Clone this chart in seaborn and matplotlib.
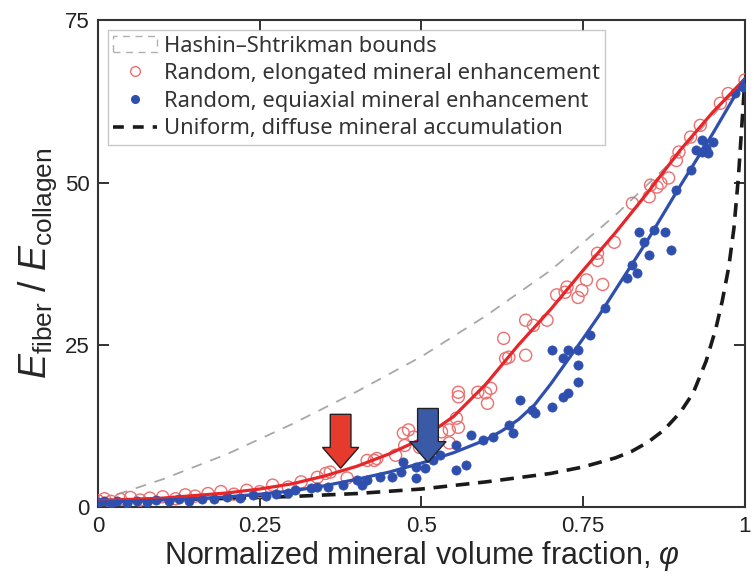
import numpy as np
import pandas as pd
import matplotlib
matplotlib.use('Agg')
import matplotlib.pyplot as plt
from matplotlib.patches import Patch
from matplotlib.lines import Line2D
import seaborn as sns

# Hashin-Shtrikman upper bound (gray dashed)
hs_phi = [0.0, 0.1, 0.2, 0.3, 0.4, 0.5, 0.6, 0.7, 0.8, 0.9, 1.0]
hs_val = [1.0, 4.3, 8.2, 12.8, 17.8, 23.2, 29.5, 36.5, 45.0, 54.5, 66.0]

# uniform diffuse accumulation (black dashed)
uni_phi = [0.0, 0.1, 0.2, 0.3, 0.4, 0.5, 0.6, 0.7, 0.75, 0.8, 0.825, 0.85, 0.875,
           0.9, 0.92, 0.94, 0.955, 0.965, 0.975, 0.983, 0.99, 0.995, 1.0]
uni_val = [1.0, 1.15, 1.35, 1.65, 2.1, 2.8, 3.9, 5.2, 6.2, 7.6, 8.6, 10.0, 11.9,
           14.6, 17.6, 22.5, 27.5, 31.8, 37.0, 43.0, 51.0, 58.5, 66.0]

# fitted curves
elong_fit_phi = [0.0, 0.05, 0.1, 0.15, 0.2, 0.25, 0.3, 0.35, 0.4, 0.45, 0.5, 0.55,
                 0.6, 0.65, 0.7, 0.75, 0.8, 0.85, 0.9, 0.95, 1.0]
elong_fit = [1.0, 1.2, 1.4, 1.8, 2.2, 2.8, 3.6, 4.8, 6.3, 8.2, 10.5, 14.0,
             19.0, 25.0, 30.5, 36.5, 42.3, 48.5, 55.0, 60.8, 66.0]
equi_fit_phi = [0.0, 0.05, 0.1, 0.15, 0.2, 0.25, 0.3, 0.35, 0.4, 0.45, 0.5, 0.55,
                0.6, 0.625, 0.65, 0.675, 0.7, 0.725, 0.75, 0.775, 0.8, 0.85, 0.9,
                0.95, 1.0]
equi_fit = [0.8, 0.9, 1.1, 1.3, 1.6, 2.0, 2.5, 3.3, 4.3, 5.4, 6.8, 8.4,
            10.4, 11.8, 13.5, 15.8, 19.0, 22.5, 26.0, 29.6, 33.5, 41.2, 49.5,
            57.5, 66.0]

# random, elongated (open red circles)
elong_phi = [0.0, 0.01, 0.02, 0.035, 0.05, 0.065, 0.08, 0.1, 0.12, 0.135, 0.15, 0.17,
             0.19, 0.21, 0.23, 0.25, 0.27, 0.294, 0.314, 0.339, 0.352, 0.359, 0.385,
             0.416, 0.427, 0.431, 0.46, 0.472, 0.474, 0.48, 0.488, 0.497, 0.531, 0.543,
             0.543, 0.554, 0.557, 0.557, 0.557, 0.587, 0.599, 0.602, 0.607, 0.627,
             0.63, 0.635, 0.661, 0.661, 0.673, 0.694, 0.709, 0.722, 0.725, 0.742,
             0.748, 0.755, 0.772, 0.772, 0.78, 0.798, 0.826, 0.852, 0.854, 0.864,
             0.87, 0.882, 0.894, 0.898, 0.916, 0.931, 0.962, 0.974, 1.0]
elong_val = [1.0, 1.3, 0.9, 1.2, 1.5, 1.1, 1.4, 1.6, 1.3, 1.9, 1.7, 2.1,
             2.4, 2.0, 2.6, 2.4, 3.4, 3.1, 3.9, 4.6, 5.2, 5.4, 4.5,
             7.2, 7.2, 7.5, 8.0, 11.4, 9.5, 11.9, 10.8, 9.2, 11.6, 11.9,
             9.9, 13.7, 12.3, 17.0, 17.7, 17.7, 17.6, 16.0, 18.3, 26.0,
             22.9, 23.1, 23.4, 28.8, 28.0, 28.8, 32.7, 33.1, 33.9, 32.3,
             33.4, 35.0, 39.1, 38.0, 34.3, 40.8, 46.8, 47.8, 49.6, 49.3,
             49.9, 50.7, 53.4, 54.7, 57.0, 58.8, 62.2, 63.7, 65.8]

# random, equiaxial (filled blue dots)
equi_phi = [0.0, 0.01, 0.02, 0.03, 0.045, 0.06, 0.075, 0.09, 0.11, 0.125, 0.14, 0.16,
            0.18, 0.2, 0.22, 0.24, 0.26, 0.275, 0.294, 0.304, 0.329, 0.339, 0.355,
            0.378, 0.401, 0.408, 0.416, 0.436, 0.454, 0.469, 0.472, 0.492, 0.492,
            0.505, 0.518, 0.528, 0.554, 0.554, 0.569, 0.576, 0.595, 0.61, 0.635,
            0.642, 0.653, 0.671, 0.676, 0.702, 0.702, 0.719, 0.719, 0.727, 0.727,
            0.742, 0.742, 0.742, 0.76, 0.783, 0.818, 0.826, 0.833, 0.836, 0.844,
            0.852, 0.859, 0.877, 0.885, 0.894, 0.917, 0.925, 0.933, 0.933, 0.94,
            0.943, 0.951, 0.985, 0.997]
equi_val = [0.8, 1.0, 0.6, 0.9, 0.7, 1.0, 0.8, 1.1, 0.9, 1.2, 1.0, 1.3,
            1.2, 1.5, 1.4, 1.8, 1.7, 2.1, 2.2, 2.6, 2.9, 3.1, 3.1,
            3.4, 4.2, 3.4, 4.2, 4.6, 4.6, 5.4, 6.9, 4.5, 6.2,
            6.0, 7.2, 8.0, 5.7, 9.5, 6.5, 11.1, 10.3, 10.8, 12.6,
            11.4, 16.5, 14.9, 14.5, 15.4, 24.2, 17.0, 23.0, 17.6, 24.2,
            19.3, 21.9, 24.2, 26.5, 30.6, 35.3, 37.3, 36.0, 42.4, 40.8,
            38.8, 42.7, 42.4, 39.6, 48.8, 51.9, 55.0, 54.7, 56.5, 55.3,
            54.5, 56.2, 63.8, 64.7]

# arrows (x position, top, tip)
arrow_x = [0.375, 0.51]
arrow_top = [14.3, 15.2]
arrow_tip = [6.0, 6.9]

red = '#e8262a'
red_pt = '#ec7070'
blue = '#2f4fae'

sns.set_style('ticks')
plt.rcParams['font.family'] = ['Noto Sans', 'DejaVu Sans']
plt.rcParams['mathtext.fontset'] = 'custom'
plt.rcParams['mathtext.it'] = 'Liberation Sans:italic'
plt.rcParams['mathtext.rm'] = 'Liberation Sans'

fig = plt.figure(figsize=(7.54, 5.77), dpi=100)
ax = fig.add_axes([0.13, 0.121, 0.858, 0.844])

sns.lineplot(x=hs_phi, y=hs_val, ax=ax, color='#a8a8a8', lw=1.3)
ax.lines[-1].set_dashes((6, 5))
sns.lineplot(x=uni_phi, y=uni_val, ax=ax, color='#1a1a1a', lw=2.6)
ax.lines[-1].set_dashes((3.8, 2.4))

sns.scatterplot(x=elong_phi, y=elong_val, ax=ax, s=75, facecolors='none',
                edgecolor=red_pt, linewidth=1.0, marker='o', zorder=3)
sns.scatterplot(x=equi_phi, y=equi_val, ax=ax, s=44, color=blue,
                edgecolor=blue, linewidth=0.5, zorder=3)

sns.lineplot(x=elong_fit_phi, y=elong_fit, ax=ax, color=red, lw=2.3, zorder=4)
sns.lineplot(x=equi_fit_phi, y=equi_fit, ax=ax, color=blue, lw=2.3, zorder=4)

for xa, top, tip, col in zip(arrow_x, arrow_top, arrow_tip, ['#e63a2c', '#3b5aa6']):
    ax.arrow(xa, top, 0, tip - top, width=0.032, head_width=0.056,
             head_length=3.2, length_includes_head=True, facecolor=col,
             edgecolor='#222222', linewidth=1.0, zorder=5)

ax.set_xlim(0, 1)
ax.set_ylim(0, 75)
ax.set_xticks([0, 0.25, 0.5, 0.75, 1])
ax.set_xticklabels(['0', '0.25', '0.5', '0.75', '1'])
ax.set_yticks([0, 25, 50, 75])
ax.tick_params(direction='in', length=8, width=1.3, top=True, right=True,
               labelsize=16, colors='#222222', pad=6)
for lab in ax.get_xticklabels() + ax.get_yticklabels():
    lab.set_fontfamily(['Liberation Sans Narrow', 'Liberation Sans'])
for sp in ax.spines.values():
    sp.set_linewidth(1.5)
    sp.set_color('#333333')

ax.set_xlabel(r'Normalized mineral volume fraction, $\varphi$', fontsize=22,
              family='Liberation Sans', labelpad=2)
ax.set_ylabel(r'$E_{\mathrm{fiber}}$ / $E_{\mathrm{collagen}}$', fontsize=27,
              family='Liberation Sans', labelpad=4)

handles = [
    Patch(facecolor='none', edgecolor='#b0b0b0', linestyle=(0, (5, 4)), linewidth=1.0),
    Line2D([], [], ls='none', marker='o', mfc='none', mec=red_pt, ms=7, mew=1.0),
    Line2D([], [], ls='none', marker='o', mfc=blue, mec=blue, ms=5.5),
    Line2D([], [], color='#1a1a1a', lw=2.6, dashes=(3, 2.5)),
]
labels = ['Hashin\u2013Shtrikman bounds',
          'Random, elongated mineral enhancement',
          'Random, equiaxial mineral enhancement',
          'Uniform, diffuse mineral accumulation']
leg = ax.legend(handles, labels, loc='upper left', fontsize=15.8, frameon=True,
                fancybox=False, edgecolor='#bbbbbb', borderpad=0.25,
                labelspacing=0.3, handlelength=2.0, handletextpad=0.3,
                borderaxespad=0.45, labelcolor='#333333')
leg.get_frame().set_linewidth(1.0)

fig.savefig('out.png', dpi=100)
